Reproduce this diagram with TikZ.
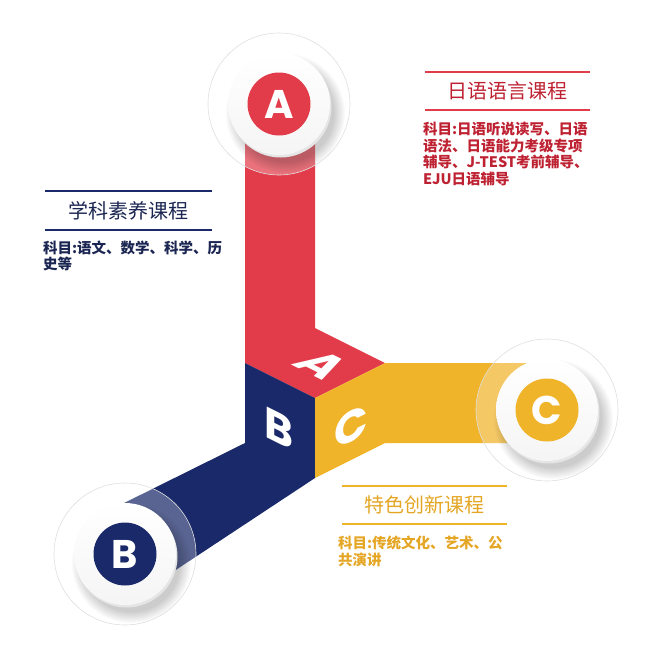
\documentclass[tikz,border=0pt]{standalone}
\usepackage{fontspec}
\newfontfamily\cjk{Noto Sans CJK SC}
\newfontfamily\lettres{Poppins}
\usetikzlibrary{positioning,fadings}

\definecolor{rouge}{RGB}{226,60,74}
\definecolor{rougetexte}{RGB}{190,34,50}
\definecolor{bleu}{RGB}{25,41,105}
\definecolor{bleutexte}{RGB}{27,38,82}
\definecolor{jaune}{RGB}{240,180,42}
\definecolor{jaunetexte}{RGB}{228,166,36}

\begin{document}
\begin{tikzpicture}[x=1pt, y=-1pt]
    \tikzstyle{halo} = [fill=white, fill opacity=0.28, draw=gray!25, line width=0.6pt]
    \tikzstyle{ombre} = [black, opacity=0.2, path fading=circle with fuzzy edge 20 percent]
    \tikzstyle{disque} = [circle, minimum size=63pt, inner sep=0pt, text=white,
                          font=\lettres\bfseries\fontsize{40}{40}\selectfont]
    \tikzstyle{face} = [inner sep=0pt, text=white, font=\lettres\bfseries\fontsize{44}{44}\selectfont]
    \tikzstyle{titre} = [minimum width=165pt, minimum height=38pt, inner sep=0pt,
                         font=\cjk\fontsize{20}{20}\selectfont]
    \tikzstyle{corps} = [align=left, inner sep=0pt, font=\cjk\bfseries\fontsize{14.5}{16.5}\selectfont]
    \tikzstyle{filet} = [line width=2.2pt]

    \useasboundingbox (0,0) rectangle (664,646);

    % Bandes et cube central
    \fill[rouge] (245,104) -- (315,104) -- (315,328) -- (385,363) -- (315,398) -- (245,363) -- cycle;
    \fill[bleu] (245,363) -- (315,398) -- (315,478) -- (150,587) -- (110,510) -- (245,443) -- cycle;
    \fill[jaune] (315,398) -- (385,363) -- (547,363) -- (547,443) -- (385,443) -- (315,478) -- cycle;

    % Lettres sur les faces du cube
    \node[face, cm={1,-0.5,1,0.5,(0,0)}] (faceA) at (322,365) {A};
    \node[face, cm={1,-0.5,0,1,(0,0)}] (faceB) at (279,428) {B};
    \node[face, cm={1,0.5,0,1,(0,0)}] (faceC) at (351,427) {C};

    % Cercle A
    \filldraw[halo] (279,104) circle (71pt);
    \fill[ombre, shift={(6,9)}] (279,104) circle (60pt);
    \fill[gray!20, shift={(1.5,2.5)}] (279,104) circle (51pt);
    \shade[top color=white, bottom color=gray!8] (279,104) circle (51pt);
    \node[disque, fill=rouge] (cercleA) at (279,104) {A};

    % Cercle B
    \filldraw[halo] (125,554) circle (71pt);
    \fill[ombre, shift={(6,9)}] (125,554) circle (60pt);
    \fill[gray!20, shift={(1.5,2.5)}] (125,554) circle (51pt);
    \shade[top color=white, bottom color=gray!8] (125,554) circle (51pt);
    \node[disque, fill=bleu] (cercleB) at (125,554) {B};

    % Cercle C
    \filldraw[halo] (547,410) circle (71pt);
    \fill[ombre, shift={(6,9)}] (547,410) circle (60pt);
    \fill[gray!20, shift={(1.5,2.5)}] (547,410) circle (51pt);
    \shade[top color=white, bottom color=gray!8] (547,410) circle (51pt);
    \node[disque, fill=jaune] (cercleC) at (547,410) {C};

    % Blocs de texte
    \node[titre, text=rougetexte] (titreA) at (507.5,91) {日语语言课程};
    \draw[filet, rouge] (titreA.north west) -- (titreA.north east) (titreA.south west) -- (titreA.south east);
    \node[corps, text=rougetexte, below right=12pt and -2pt of titreA.south west] (corpsA)
        {科目:日语听说读写、日语\\语法、日语能力考级专项\\辅导、J-TEST考前辅导、\\EJU日语辅导};

    \node[titre, minimum width=167pt, text=bleutexte] (titreB) at (128.5,210.5) {学科素养课程};
    \draw[filet, bleu] (titreB.north west) -- (titreB.north east) (titreB.south west) -- (titreB.south east);
    \node[corps, text=bleutexte, below right=11pt and -2pt of titreB.south west] (corpsB)
        {科目:语文、数学、科学、历\\史等};

    \node[titre, text=jaunetexte] (titreC) at (424.5,505) {特色创新课程};
    \draw[filet, jaune] (titreC.north west) -- (titreC.north east) (titreC.south west) -- (titreC.south east);
    \node[corps, text=jaunetexte, below right=12pt and -4pt of titreC.south west] (corpsC)
        {科目:传统文化、艺术、公\\共演讲};
\end{tikzpicture}
\end{document}
